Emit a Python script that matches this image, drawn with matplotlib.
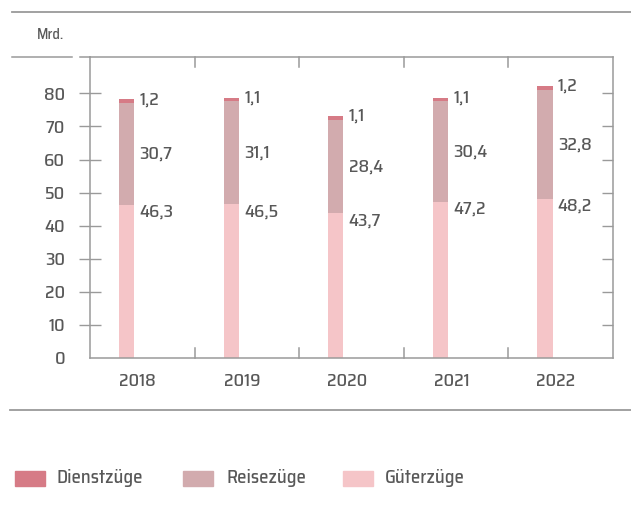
import matplotlib
matplotlib.use("Agg")
import matplotlib.pyplot as plt
from matplotlib.patches import Rectangle
from matplotlib.lines import Line2D

years = ["2018", "2019", "2020", "2021", "2022"]
gueterzuege = [46.3, 46.5, 43.7, 47.2, 48.2]
reisezuege = [30.7, 31.1, 28.4, 30.4, 32.8]
dienstzuege = [1.2, 1.1, 1.1, 1.1, 1.2]
series_names = ["Dienstzüge", "Reisezüge", "Güterzüge"]

c_dienst = "#d67b86"
c_reise = "#d2abae"
c_gueter = "#f5c5c8"
txt = "#585858"
line_c = "#9a9a9a"

plt.rcParams["font.family"] = ["Saira SemiCondensed", "DejaVu Sans"]
plt.rcParams["font.weight"] = "medium"


def fmt(v):
    return f"{v:.1f}".replace(".", ",")


fig = plt.figure(figsize=(6.31, 5.18), dpi=100)
ax = fig.add_axes([90 / 631, 1 - 358 / 518, 523 / 631, 301 / 518])

x = range(len(years))
bx = [i - 0.15 for i in x]
w = 0.145
ax.bar(bx, gueterzuege, width=w, color=c_gueter, zorder=2)
ax.bar(bx, reisezuege, width=w, bottom=gueterzuege, color=c_reise, zorder=2)
bottom2 = [g + r for g, r in zip(gueterzuege, reisezuege)]
ax.bar(bx, dienstzuege, width=w, bottom=bottom2, color=c_dienst, zorder=2)

fs = 13
for i in x:
    lx = bx[i] + w / 2 + 0.05
    g, r, d = gueterzuege[i], reisezuege[i], dienstzuege[i]
    ax.text(lx, g - 2.2, fmt(g), va="center", ha="left", fontsize=fs, color=txt)
    ax.text(lx, g + r / 2, fmt(r), va="center", ha="left", fontsize=fs, color=txt)
    ax.text(lx, g + r + d, fmt(d), va="center", ha="left", fontsize=fs, color=txt)

ax.set_xlim(-0.5, 4.5)
ax.set_ylim(0, 91)

# year labels, slightly left of the category centre
ax.set_xticks([i - 0.045 for i in x])
ax.set_xticklabels(years, fontsize=fs, color=txt)
ax.tick_params(axis="x", length=0, pad=11)

ax.set_yticks(range(0, 81, 10))
ax.set_yticklabels([str(v) for v in range(0, 81, 10)], fontsize=fs, color=txt)
ax.tick_params(axis="y", direction="inout", length=16, width=1, color=line_c,
               pad=10, right=True)
for t in ax.yaxis.get_major_ticks():
    t.tick2line.set_markersize(8)
    t.tick2line.set_marker(matplotlib.lines.TICKLEFT)
ax.yaxis.get_major_ticks()[0].tick1line.set_visible(False)
ax.yaxis.get_major_ticks()[0].tick2line.set_visible(False)

for s in ax.spines.values():
    s.set_color(line_c)
    s.set_linewidth(1.1)

# category dividers on top and bottom spines
for b in [0.5, 1.5, 2.5, 3.5]:
    ax.plot([b, b], [0, 3], color=line_c, lw=1.1, clip_on=False, zorder=3)
    ax.plot([b, b], [91, 88], color=line_c, lw=1.1, clip_on=False, zorder=3)

# figure-level rules
fig.add_artist(Line2D([12 / 631, 1], [1 - 12 / 518] * 2, color=line_c, lw=1.3))
fig.add_artist(Line2D([12 / 631, 72 / 631], [1 - 57 / 518] * 2, color=line_c, lw=1.1))
fig.add_artist(Line2D([80 / 631, 90 / 631], [1 - 57 / 518] * 2, color=line_c, lw=1.1))
fig.add_artist(Line2D([10 / 631, 1], [1 - 410 / 518] * 2, color=line_c, lw=1.3))
fig.text(37 / 631, 1 - 35 / 518, "Mrd.", fontsize=10.5, color=txt, va="center")

# legend
leg_y = 1 - 478 / 518
for (px, tx), name, col in zip([(15, 57), (183, 226), (343, 385)], series_names,
                               [c_dienst, c_reise, c_gueter]):
    fig.add_artist(Rectangle((px / 631, leg_y - 7.5 / 518), 30 / 631, 15 / 518,
                             color=col, transform=fig.transFigure))
    fig.text(tx / 631, leg_y, name, fontsize=13.5, color=txt, va="center")

fig.savefig("out.png", dpi=100)
